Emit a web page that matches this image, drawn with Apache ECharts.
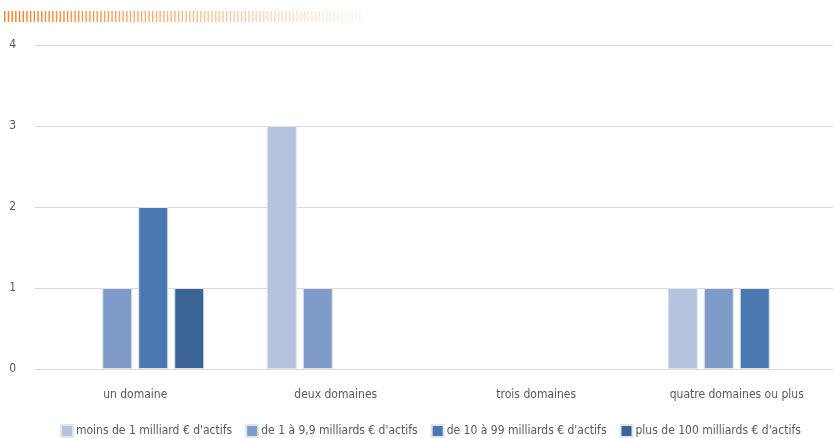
<!DOCTYPE html>
<html>
<head>
<meta charset="utf-8">
<script src="https://cdn.jsdelivr.net/npm/echarts@6/dist/echarts.min.js"></script>
<style>
  html, body { margin: 0; padding: 0; background: #fff; overflow: hidden; }
  #chart { width: 837px; height: 438px; }
</style>
</head>
<body>
<div id="chart"></div>
<script>
var categories = ['un domaine', 'deux domaines', 'trois domaines', 'quatre domaines ou plus'];
var seriesNames = [
  'moins de 1 milliard € d\'actifs',
  'de 1 à 9,9 milliards € d\'actifs',
  'de 10 à 99 milliards € d\'actifs',
  'plus de 100 milliards € d\'actifs'
];
var moinsDe1 = [0, 3, 0, 1];
var de1a9 = [1, 1, 0, 1];
var de10a99 = [2, 0, 0, 1];
var plusDe100 = [1, 0, 0, 0];
var colors = ['#b4c3de', '#7f9cc8', '#4a78b1', '#3b6495'];

var font = '"DejaVu Sans Condensed", "DejaVu Sans", sans-serif';
var allData = [moinsDe1, de1a9, de10a99, plusDe100];

var mychart = echarts.init(document.getElementById('chart'));
var txt = { fontFamily: font, fontWeight: 'condensed', fontSize: 12, color: '#595959' };
var option = {
  animation: false,
  color: colors,
  textStyle: { fontFamily: font },
  graphic: [
    {
      type: 'line',
      shape: { x1: 4, y1: 16.5, x2: 362, y2: 16.5 },
      style: {
        lineWidth: 11,
        lineDash: [1.5, 2.2],
        stroke: new echarts.graphic.LinearGradient(0, 0, 1, 0, [
          { offset: 0, color: 'rgba(240,130,40,1)' },
          { offset: 1, color: 'rgba(240,130,40,0.05)' }
        ], false)
      }
    }
  ],
  // chart div is 4px wider than the window so the plot runs off the right edge like the original
  grid: { left: 35, right: 0, top: 45, bottom: 69, containLabel: false },
  legend: {
    top: 419,
    left: 55,
    itemWidth: 12,
    itemHeight: 12,
    itemGap: 13,
    icon: 'rect',
    textStyle: Object.assign({}, txt, { padding: [0, 0, 0, -2] }),
    data: seriesNames
  },
  xAxis: {
    type: 'category',
    data: categories,
    axisLine: { show: true, lineStyle: { color: '#d9d9d9', width: 1 } },
    axisTick: { show: false },
    axisLabel: Object.assign({}, txt, { interval: 0, margin: 20 })
  },
  yAxis: {
    type: 'value',
    min: 0,
    max: 4,
    interval: 1,
    axisLine: { show: false },
    axisTick: { show: false },
    axisLabel: Object.assign({}, txt, { margin: 19 }),
    splitLine: { lineStyle: { color: '#d9d9d9', width: 1 } }
  },
  series: seriesNames.map(function (name, i) {
    return {
      name: name,
      type: 'bar',
      data: allData[i].map(function (v) { return v === 0 ? '-' : v; }),
      barWidth: 30,
      barGap: '20%',
      itemStyle: { borderColor: '#dfe5ee', borderWidth: 1 }
    };
  })
};
option && mychart.setOption(option);
</script>
</body>
</html>
